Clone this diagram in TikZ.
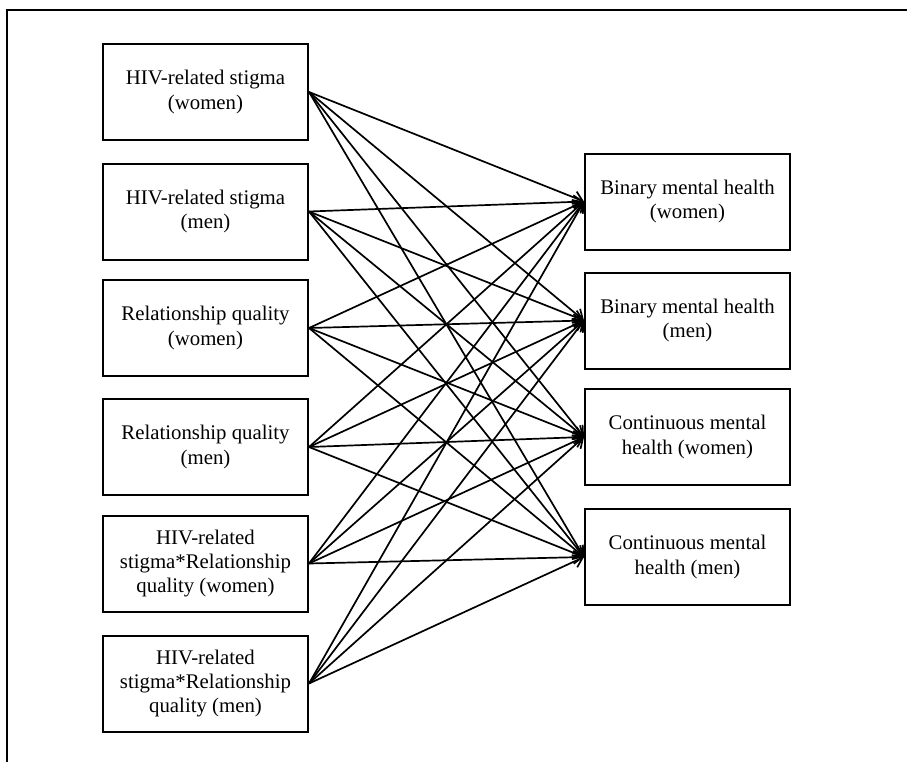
\documentclass[tikz,border=0pt]{standalone}
\usepackage{fontspec}
\setmainfont{Liberation Serif}
\usepackage{tikz}
\usetikzlibrary{arrows.meta}

\begin{document}
\begin{tikzpicture}[x=0.5pt, y=-0.5pt,
    box/.style={draw, line width=1pt, minimum width=102.5pt, minimum height=48pt,
                align=center, font=\fontsize{10.4}{12.2}\selectfont},
    link/.style={-{Straight Barb[length=4.5pt,width=6.5pt]}, line width=0.85pt}]
            \useasboundingbox (0,0) rectangle (907,762);
            \draw[line width=1.1pt] (907,10) -- (7,10) -- (7,762);

            % predictors
            \node[box] (sw) at (205.5, 92) {HIV-related stigma\\(women)};
            \node[box] (sm) at (205.5, 211.5) {HIV-related stigma\\(men)};
            \node[box] (rw) at (205.5, 328) {Relationship quality\\(women)};
            \node[box] (rm) at (205.5, 447) {Relationship quality\\(men)};
            \node[box] (iw) at (205.5, 563.5) {HIV-related\\stigma*Relationship\\quality (women)};
            \node[box] (im) at (205.5, 683.5) {HIV-related\\stigma*Relationship\\quality (men)};

            % outcomes
            \node[box] (bw) at (687.5, 201.5) {Binary mental health\\(women)};
            \node[box] (bm) at (687.5, 320.5) {Binary mental health\\(men)};
            \node[box] (cw) at (687.5, 437) {Continuous mental\\health (women)};
            \node[box] (cm) at (687.5, 557) {Continuous mental\\health (men)};

            \foreach \p in {sw, sm, rw, rm, iw, im}
                \foreach \o in {bw, bm, cw, cm}
                    \draw[link] (\p.east) -- (\o.west);
        \end{tikzpicture}
\end{document}
